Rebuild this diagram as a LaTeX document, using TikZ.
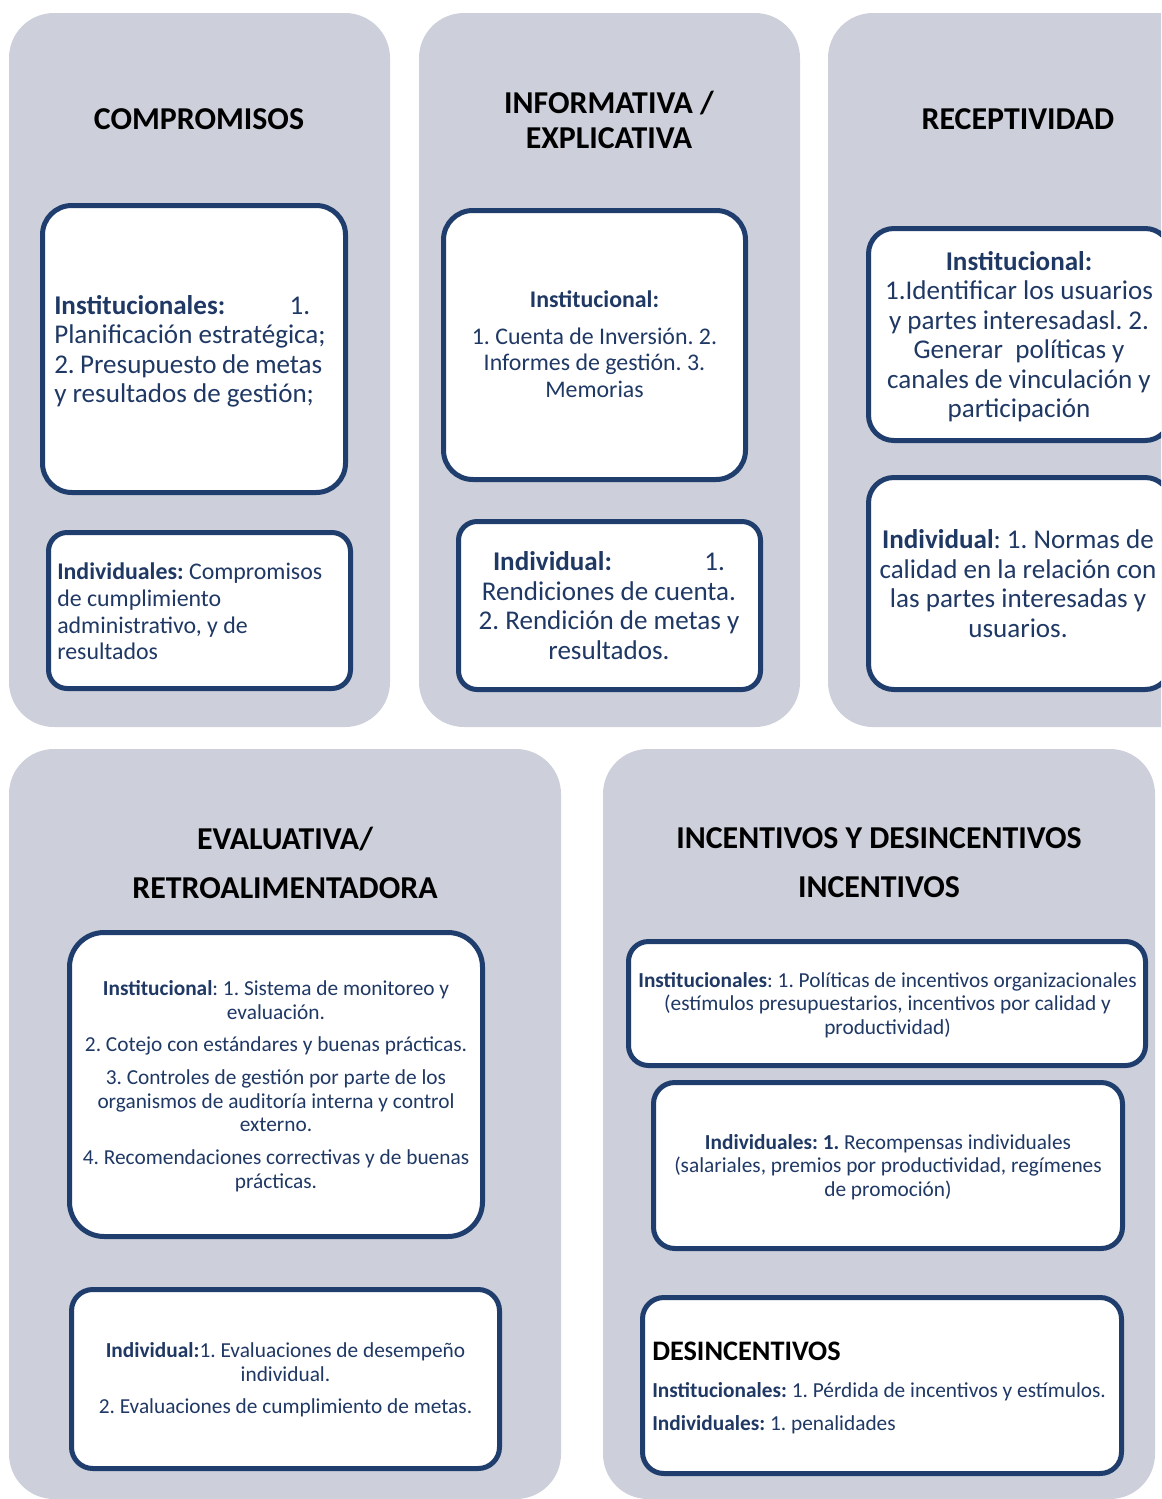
\documentclass[tikz,border=0pt]{standalone}
\usepackage{fontspec}
\setmainfont{Carlito}
\frenchspacing
\definecolor{panelgray}{RGB}{205,208,218}
\definecolor{boxblue}{RGB}{31,62,110}
\definecolor{txtblue}{RGB}{31,56,100}
\tikzset{
  panel/.style={fill=panelgray, draw=none, rounded corners=33.75pt, inner sep=0pt},
  card/.style={fill=white, draw=boxblue, line width=3.75pt, inner sep=0pt},
  ttl/.style={font=\fontsize{23.9}{26.3}\selectfont\bfseries, text=black, align=center, inner sep=0pt},
  bigtxt/.style={font=\fontsize{20.3}{22.1}\selectfont, text=txtblue, align=center, inner sep=0pt},
  midtxt/.style={font=\fontsize{17.9}{19.9}\selectfont, text=txtblue, align=center, inner sep=0pt},
  smltxt/.style={font=\fontsize{16}{17.8}\selectfont, text=txtblue, align=center, inner sep=0pt},
}
\begin{document}
\begin{tikzpicture}[x=0.75pt,y=-0.75pt]
\useasboundingbox (0,0) rectangle (1161,1499);
\clip (0,0) rectangle (1161,1499);

% panels
\node[panel, minimum width=381*0.75pt, minimum height=714*0.75pt] (pC) at (199.5,370) {};
\node[panel, minimum width=381*0.75pt, minimum height=714*0.75pt] (pI) at (609.5,370) {};
\node[panel, minimum width=381*0.75pt, minimum height=714*0.75pt] (pR) at (1018.5,370) {};
\node[panel, minimum width=552*0.75pt, minimum height=750*0.75pt] (pE) at (285,1124) {};
\node[panel, minimum width=552*0.75pt, minimum height=750*0.75pt] (pN) at (879,1124) {};

% titles
\node[ttl] (tC) at (199,119) {COMPROMISOS};
\node[ttl] (tI) at (609,119.5) {INFORMATIVA /\\EXPLICATIVA};
\node[ttl] (tR) at (1018,119) {RECEPTIVIDAD};
\node[ttl] (tE) at (285,862.5) {EVALUATIVA/\\[10.45pt]RETROALIMENTADORA};
\node[ttl] (tN) at (879,862.5) {INCENTIVOS Y DESINCENTIVOS\\[10.45pt]INCENTIVOS};

% cards
\node[card, rounded corners=22pt, minimum width=303*0.75pt, minimum height=287*0.75pt] (C1) at (194,349) {};
\node[card, rounded corners=14pt, minimum width=302*0.75pt, minimum height=156*0.75pt] (C2) at (199.5,610.5) {};
\node[card, rounded corners=22pt, minimum width=302*0.75pt, minimum height=269*0.75pt] (I1) at (594.5,345) {};
\node[card, rounded corners=14pt, minimum width=302*0.75pt, minimum height=168*0.75pt] (I2) at (609.5,605.5) {};
\node[card, rounded corners=19pt, minimum width=302*0.75pt, minimum height=212*0.75pt] (R1) at (1019.5,334.5) {};
\node[card, rounded corners=19pt, minimum width=302*0.75pt, minimum height=212*0.75pt] (R2) at (1019.5,583.5) {};
\node[card, rounded corners=26pt, minimum width=413*0.75pt, minimum height=304*0.75pt] (E1) at (276,1084.5) {};
\node[card, rounded corners=16pt, minimum width=428*0.75pt, minimum height=179*0.75pt] (E2) at (285.5,1379) {};
\node[card, rounded corners=15pt, minimum width=517*0.75pt, minimum height=124*0.75pt] (N1) at (887,1003.5) {};
\node[card, rounded corners=16pt, minimum width=469*0.75pt, minimum height=166*0.75pt] (N2) at (888,1165.5) {};
\node[card, rounded corners=16pt, minimum width=479*0.75pt, minimum height=176*0.75pt] (N3) at (882,1385.5) {};

% texts
\node[bigtxt, align=left, anchor=west] (xC1) at (54,351.5)
  {\makebox[192pt]{\textbf{Institucionales:}\hfill 1.}\\
   Planificación estratégica;\\
   \makebox[201pt][s]{2. Presupuesto de metas}\\
   y resultados de gestión;};
\node[midtxt, align=left, anchor=west] (xC2) at (57,611.5)
  {\textbf{Individuales:} Compromisos\\ de cumplimiento\\ administrativo, y de\\ resultados};
\node[midtxt] (xI1) at (594.5,344)
  {\textbf{Institucional:}\\[7.9pt] 1. Cuenta de Inversión. 2.\\ Informes de gestión. 3.\\ Memorias};
\node[bigtxt] (xI2) at (609,605.5)
  {\makebox[174pt]{\textbf{Individual:}\hfill 1.}\\ Rendiciones de cuenta.\\ 2. Rendición de metas y\\ resultados.};
\node[bigtxt] (xR1) at (1019,336.5)
  {\textbf{Institucional:}\\ 1.Identificar los usuarios\\ y partes interesadasl. 2.\\ Generar\ \ políticas y\\ canales de vinculación y\\ participación};
\node[bigtxt] (xR2) at (1018,583.5)
  {\textbf{Individual}: 1. Normas de\\ calidad en la relación con\\ las partes interesadas y\\ usuarios.};
\node[smltxt] (xE1) at (276,1086)
  {\textbf{Institucional}: 1. Sistema de monitoreo y\\ evaluación.\\[6.6pt]
   2. Cotejo con estándares y buenas prácticas.\\[6.6pt]
   3. Controles de gestión por parte de los\\ organismos de auditoría interna y control\\ externo.\\[6.6pt]
   4. Recomendaciones correctivas y de buenas\\ prácticas.};
\node[smltxt] (xE2) at (285.5,1380)
  {\textbf{Individual:}1. Evaluaciones de desempeño\\ individual.\\[6.6pt] 2. Evaluaciones de cumplimiento de metas.};
\node[smltxt] (xN1) at (887.5,1005)
  {\textbf{Institucionales}: 1. Políticas de incentivos organizacionales\\ (estímulos presupuestarios, incentivos por calidad y\\ productividad)};
\node[smltxt] (xN2) at (888,1167)
  {\textbf{Individuales: 1.} Recompensas individuales\\ (salariales, premios por productividad, regímenes\\ de promoción)};
\node[ttl, font=\fontsize{21.2}{24}\selectfont\bfseries, anchor=west] (xN3t) at (652,1351) {DESINCENTIVOS};
\node[smltxt, align=left, anchor=west] (xN3) at (652,1408)
  {\textbf{Institucionales:} 1. Pérdida de incentivos y estímulos.\\[6.6pt] \textbf{Individuales:} 1. penalidades};
\end{tikzpicture}
\end{document}
